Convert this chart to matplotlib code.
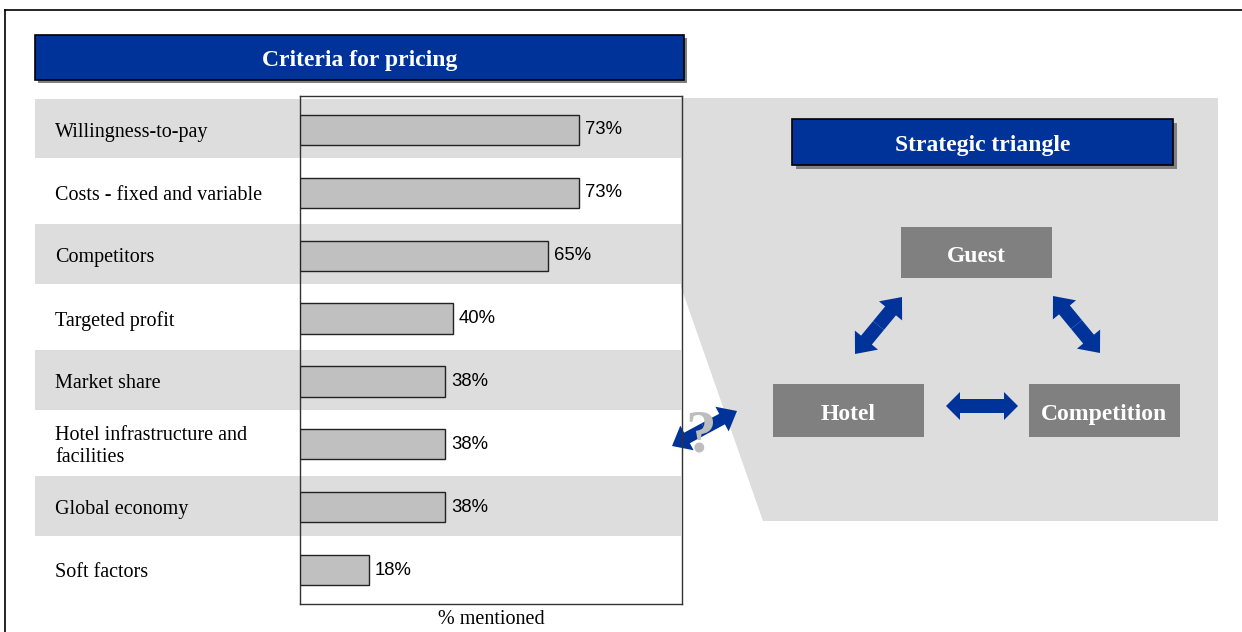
import matplotlib
matplotlib.use("Agg")
import matplotlib.pyplot as plt
from matplotlib.patches import Rectangle, Polygon, FancyArrow
from matplotlib.transforms import blended_transform_factory

# ---- data ----
categories = ["Willingness-to-pay", "Costs - fixed and variable", "Competitors",
              "Targeted profit", "Market share", "Hotel infrastructure and\nfacilities",
              "Global economy", "Soft factors"]
values = [73, 73, 65, 40, 38, 38, 38, 18]
value_labels = ["73%", "73%", "65%", "40%", "38%", "38%", "38%", "18%"]
chart_title = "Criteria for pricing"
xlabel = "% mentioned"
triangle_title = "Strategic triangle"
triangle_nodes = ["Guest", "Hotel", "Competition"]

NAVY = "#003399"
STRIPE = "#DDDDDD"
BAR = "#C0C0C0"
BOX = "#808080"
SERIF = "Liberation Serif"
SANS = "Liberation Sans"

W, H = 1242, 632
fig = plt.figure(figsize=(W / 100, H / 100), dpi=100)
bg = fig.add_axes([0, 0, 1, 1], zorder=0)
bg.set_xlim(0, W)
bg.set_ylim(H, 0)
bg.axis("off")

# outer frame
bg.plot([5, 5], [632, 10], color="black", lw=1.2)
bg.plot([5, 1242], [10, 10], color="black", lw=1.2)

# title box with shadow
def title_box(x0, y0, x1, y1, text, off):
    bg.add_patch(Rectangle((x0 + off, y0 + off), x1 - x0, y1 - y0, facecolor=BOX, edgecolor="none", zorder=1))
    bg.add_patch(Rectangle((x0, y0), x1 - x0, y1 - y0, facecolor=NAVY, edgecolor="black", lw=1.2, zorder=2))
    bg.text((x0 + x1) / 2, (y0 + y1) / 2 + 3, text, color="white", fontsize=17, fontweight="bold",
            family=SERIF, ha="center", va="center", zorder=3)

title_box(35, 35, 684, 80, chart_title, 3)

# big gray polygon on right
bg.add_patch(Polygon([(682, 98), (1218, 98), (1218, 521), (763, 521), (681, 287), (681, 98)],
                     closed=True, facecolor=STRIPE, edgecolor="none", zorder=0.5))

title_box(792, 119, 1173, 165, triangle_title, 4)

# bar chart axes
ax_l, ax_r, ax_t, ax_b = 300, 682, 96, 604
ax = fig.add_axes([ax_l / W, 1 - ax_b / H, (ax_r - ax_l) / W, (ax_b - ax_t) / H], zorder=1)
ax.set_facecolor("none")
n = len(categories)
ypos = list(range(n))
ax.barh(ypos, values, height=0.48, color=BAR, edgecolor="#222222", linewidth=1, zorder=3)
ax.set_xlim(0, 100)
ax.set_ylim(n - 1 + 0.54, -0.54)
ax.set_xticks([])
ax.set_yticks([])
for s in ax.spines.values():
    s.set_color("#333333")
    s.set_linewidth(1)

trans = blended_transform_factory(bg.transData, ax.transData)
for i, (cat, v, lab) in enumerate(zip(categories, values, value_labels)):
    if i % 2 == 0:
        bg.add_patch(Rectangle((35, i - 0.5), 646, 0.954, transform=trans,
                               facecolor=STRIPE, edgecolor="none", zorder=0.4))
    bg.text(55, i + 0.035, cat, transform=trans, family=SERIF, fontsize=14.5, ha="left",
            va="center", linespacing=1.2, zorder=2)
    ax.text(v + 1.5, i, lab, family=SANS, fontsize=13.3, ha="left", va="center", zorder=4)

ax.set_xlabel(xlabel, family=SERIF, fontsize=14.5, labelpad=4)

# triangle boxes
def node(x0, y0, x1, y1, text):
    bg.add_patch(Rectangle((x0, y0), x1 - x0, y1 - y0, facecolor=BOX, edgecolor="none", zorder=2))
    bg.text((x0 + x1) / 2, (y0 + y1) / 2 + 4, text, color="white", fontsize=17, fontweight="bold",
            family=SERIF, ha="center", va="center", zorder=3)

node(901, 227, 1052, 278, triangle_nodes[0])
node(773, 384, 924, 437, triangle_nodes[1])
node(1029, 384, 1180, 437, triangle_nodes[2])

def dbl_arrow(x0, y0, x1, y1, shaft=14, head_w=30, head_l=18, z=4):
    mx, my = (x0 + x1) / 2, (y0 + y1) / 2
    for tx, ty in [(x0, y0), (x1, y1)]:
        bg.add_patch(FancyArrow(mx, my, tx - mx, ty - my, width=shaft, head_width=head_w,
                                head_length=head_l, length_includes_head=True,
                                facecolor=NAVY, edgecolor="none", zorder=z))

dbl_arrow(855, 354, 902, 297)
dbl_arrow(1053, 296, 1100, 353)
dbl_arrow(946, 406, 1018, 406, shaft=14, head_w=28, head_l=14)

# question mark + arrow
dbl_arrow(672, 446, 737, 411, shaft=12, head_w=28, head_l=17, z=3)
bg.text(701, 437, "?", family=SERIF, fontweight="bold", fontsize=44, color="#BDBDBD",
        ha="center", va="center", zorder=5)

fig.savefig("out.png", dpi=100)
